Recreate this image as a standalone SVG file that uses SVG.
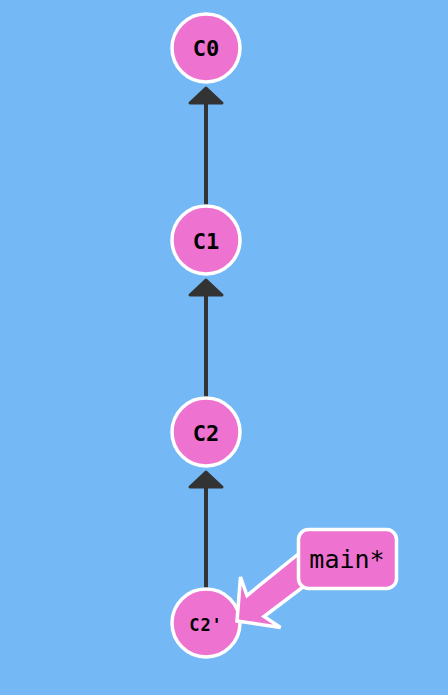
<svg xmlns="http://www.w3.org/2000/svg" width="448" height="695" viewBox="0 0 448 695">
<defs>
<style>
.node circle{fill:#ee72cf;stroke:#fff;stroke-width:3.5}
.node text{font-family:"DejaVu Sans Mono",monospace;font-weight:bold;font-size:22px;text-anchor:middle;fill:#000}
.edge line{stroke:#333;stroke-width:4}
.edge path{fill:#333;stroke:#333;stroke-width:3;stroke-linejoin:round}
</style>
</defs>
<rect width="448" height="695" fill="#74b8f5"/>
<g id="connectors" class="edge">
<line x1="206" y1="100" x2="206" y2="206"/>
<path d="M206,88 L190,103 L222,103 Z"/>
<line x1="206" y1="292" x2="206" y2="398"/>
<path d="M206,280 L190,295 L222,295 Z"/>
<line x1="206" y1="484" x2="206" y2="590"/>
<path d="M206,472 L190,487 L222,487 Z"/>
</g>
<g id="C0" class="node"><circle cx="206" cy="48" r="34"/><text x="206" y="56">C0</text></g>
<g id="C1" class="node"><circle cx="206" cy="240" r="34"/><text x="206" y="249">C1</text></g>
<g id="C2" class="node"><circle cx="206" cy="432" r="34"/><text x="206" y="441">C2</text></g>
<g id="C2p" class="node"><circle cx="206" cy="623" r="34"/><text x="206" y="631" style="font-size:17px;letter-spacing:1px">C2'</text></g>
<g id="main">
<path d="M237,621 L280.5,627.5 L264,616.5 L317,576.5 L299,553.5 L247,595.5 L240.5,577 Z" fill="#ee72cf" stroke="#fff" stroke-width="3.5" stroke-linejoin="miter"/>
<rect x="298.5" y="529.5" width="98" height="59" rx="10" fill="#ee72cf" stroke="#fff" stroke-width="3.5"/>
<text x="347" y="568" font-family="DejaVu Sans Mono, monospace" font-size="25" text-anchor="middle" fill="#000">main*</text>
</g>
</svg>
